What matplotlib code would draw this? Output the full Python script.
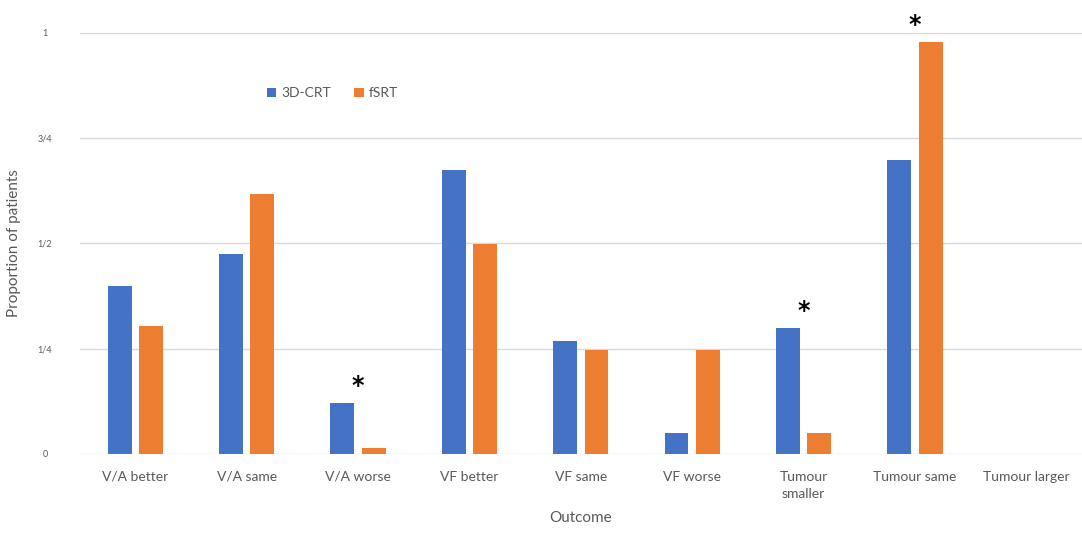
import numpy as np
import matplotlib
matplotlib.use("Agg")
import matplotlib.pyplot as plt

plt.rcParams['font.family'] = ['Lato', 'DejaVu Sans']

categories = ["V/A better", "V/A same", "V/A worse", "VF better", "VF same",
              "VF worse", "Tumour\nsmaller", "Tumour same", "Tumour larger"]
crt_3d = [0.399, 0.475, 0.120, 0.674, 0.268, 0.051, 0.298, 0.698, 0.0]
fsrt = [0.304, 0.616, 0.015, 0.499, 0.248, 0.248, 0.051, 0.977, 0.0]
significant = [2, 6, 7]

y_ticks = [0, 0.25, 0.5, 0.75, 1.0]
y_tick_labels = ["0", "1/4", "1/2", "3/4", "1"]

blue = "#4472C4"
orange = "#ED7D31"
text_grey = "#595959"

fig = plt.figure(figsize=(10.82, 5.39), dpi=100)
ax = fig.add_axes([0.0736, 0.1577, 0.9264, 0.7816])

x = np.arange(len(categories))
w = 0.215
off = 0.141
ax.bar(x - off, crt_3d, width=w, color=blue, label="3D-CRT", zorder=3)
ax.bar(x + off, fsrt, width=w, color=orange, label="fSRT", zorder=3)

for i in significant:
    top = max(crt_3d[i], fsrt[i])
    ax.annotate("*", xy=(x[i], top), xytext=(0, 4), textcoords="offset points",
                ha="center", va="bottom", fontsize=17, fontweight="bold",
                color="black", annotation_clip=False, family="DejaVu Sans")

ax.set_xlim(-0.5, len(categories) - 0.5)
ax.set_ylim(0, 1)
ax.set_yticks(y_ticks)
ax.set_yticklabels(y_tick_labels, fontsize=6.5, color=text_grey, ha="center")
ax.set_xticks(x)
ax.set_xticklabels(categories, fontsize=10, color=text_grey, linespacing=1.5)
ax.tick_params(axis="both", length=0)
ax.tick_params(axis="y", pad=25)
ax.tick_params(axis="x", pad=12)
ax.yaxis.grid(True, color="#D9D9D9", linewidth=1.0, zorder=0)
ax.set_axisbelow(True)
for s in ax.spines.values():
    s.set_visible(False)

ax.set_xlabel("Outcome", fontsize=11, color=text_grey, labelpad=8)
ax.set_ylabel("Proportion of patients", fontsize=11, color=text_grey, labelpad=12)

leg = ax.legend(loc="upper left", bbox_to_anchor=(0.174, 0.9), ncol=2, frameon=False,
                fontsize=10, handlelength=0.7, handleheight=0.7, handletextpad=0.4,
                columnspacing=1.6)
for t in leg.get_texts():
    t.set_color(text_grey)

fig.savefig("out.png", dpi=100)
